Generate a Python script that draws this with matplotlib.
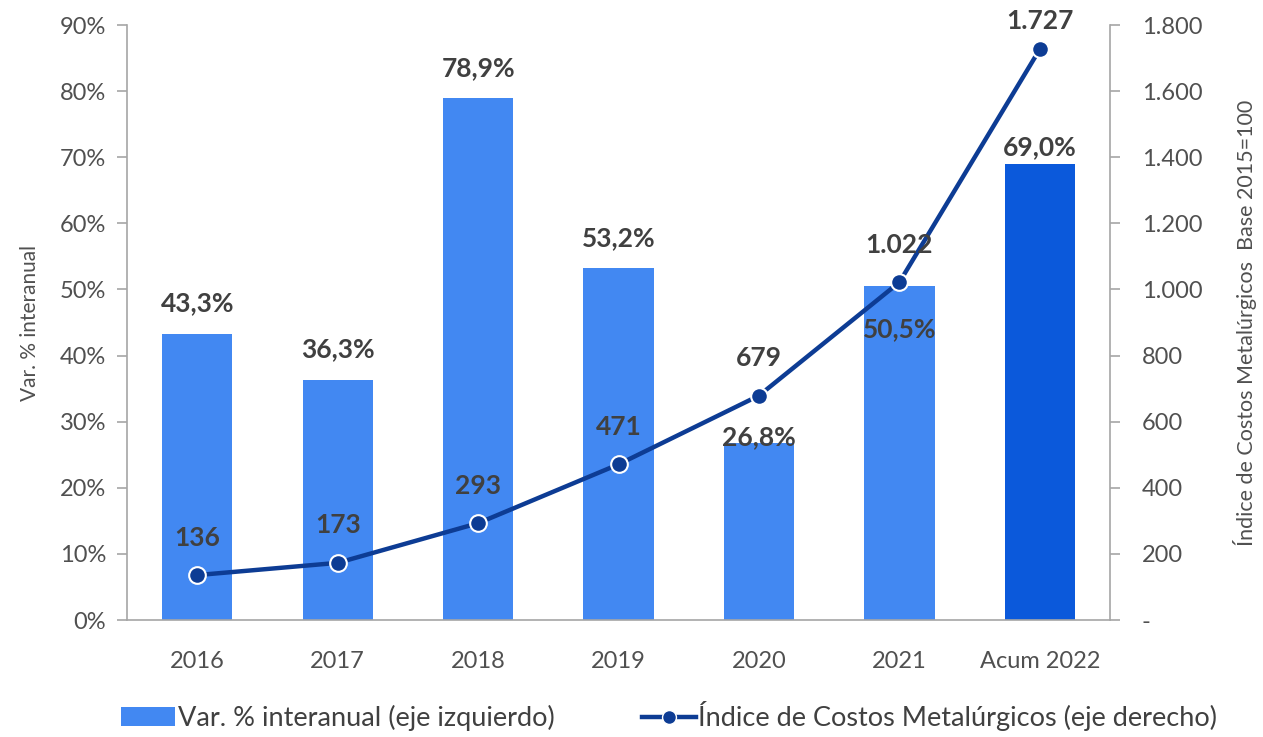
import numpy as np
import matplotlib
matplotlib.use("Agg")
import matplotlib.pyplot as plt
from matplotlib.ticker import FuncFormatter
from matplotlib.lines import Line2D
from matplotlib.patches import Patch

plt.rcParams["font.family"] = ["Lato", "DejaVu Sans"]

categories = ["2016", "2017", "2018", "2019", "2020", "2021", "Acum 2022"]
var_pct = [43.3, 36.3, 78.9, 53.2, 26.8, 50.5, 69.0]
indice = [136, 173, 293, 471, 679, 1022, 1727]
left_ticks = [0, 10, 20, 30, 40, 50, 60, 70, 80, 90]
right_ticks = [0, 200, 400, 600, 800, 1000, 1200, 1400, 1600, 1800]

BAR = "#4288F2"
BAR_LAST = "#0B59DB"
LINE = "#0D3C94"
TXT = "#404040"
TICK = "#505050"
SPINE = "#A6A6A6"

# label offsets in points (manual nudges, like the original)
bar_lab_off = [22, 22, 22, 22, 4, -31, 12]
line_lab_off = [27, 27, 27, 27, 27, 27, 20]

fig = plt.figure(figsize=(12.63, 7.37), dpi=100)
ax = fig.add_axes([0.1006, 0.1587, 0.7783, 0.8073])
ax2 = ax.twinx()

x = np.arange(len(categories))
colors = [BAR] * (len(categories) - 1) + [BAR_LAST]
ax.bar(x, var_pct, width=0.5, color=colors, zorder=2)
ax.set_xlim(-0.5, len(categories) - 0.5)
ax.set_ylim(0, 90)
ax.set_yticks(left_ticks)
ax.yaxis.set_major_formatter(FuncFormatter(lambda v, p: f"{v:.0f}%"))
ax.set_xticks(x)
ax.set_xticklabels(categories)

ax2.plot(x, indice, color=LINE, linewidth=3.2, marker="o", markersize=12,
         markerfacecolor=LINE, markeredgecolor="white", markeredgewidth=1.5, zorder=5)
ax2.set_ylim(0, 1800)
ax2.set_yticks(right_ticks)
ax2.yaxis.set_major_formatter(FuncFormatter(
    lambda v, p: "-" if v == 0 else f"{v:,.0f}".replace(",", ".")))

for i, v in enumerate(var_pct):
    ax.annotate(f"{v:.1f}%".replace(".", ","), (x[i], v), xytext=(0, bar_lab_off[i]),
                textcoords="offset points", ha="center", va="center",
                fontsize=19, fontweight="bold", color=TXT, zorder=6)
for i, v in enumerate(indice):
    ax2.annotate(f"{v:,.0f}".replace(",", "."), (x[i], v), xytext=(0, line_lab_off[i]),
                 textcoords="offset points", ha="center", va="center",
                 fontsize=19, fontweight="bold", color=TXT, zorder=6)

for a in (ax, ax2):
    for s in a.spines.values():
        s.set_visible(False)
    a.tick_params(axis="both", labelsize=17, colors=TICK, length=7, width=1.2,
                  color=SPINE)
ax.spines["left"].set_visible(True)
ax.spines["bottom"].set_visible(True)
ax2.spines["right"].set_visible(True)
for s in (ax.spines["left"], ax.spines["bottom"], ax2.spines["right"]):
    s.set_color(SPINE)
    s.set_linewidth(1.2)
ax.tick_params(axis="x", length=0, pad=22)
ax.tick_params(axis="y", pad=8)
ax2.tick_params(axis="y", pad=16)

ax.set_ylabel("Var. % interanual", fontsize=15, color=TICK, labelpad=14)
ax2.set_ylabel("Índice de Costos Metalúrgicos  Base 2015=100", fontsize=15.5,
               color=TICK, labelpad=22)

handles = [Patch(facecolor=BAR),
           Line2D([0], [0], color=LINE, linewidth=3.2, marker="o", markersize=10,
                  markerfacecolor=LINE, markeredgecolor="white")]
fig.legend(handles, ["Var. % interanual (eje izquierdo)",
                     "Índice de Costos Metalúrgicos (eje derecho)"],
           loc="lower center", bbox_to_anchor=(0.53, -0.025), ncol=2, frameon=False,
           fontsize=19.5, labelcolor=TXT, handlelength=2.0, handletextpad=0.1,
           columnspacing=3.2)

fig.savefig("out.png", dpi=100)
